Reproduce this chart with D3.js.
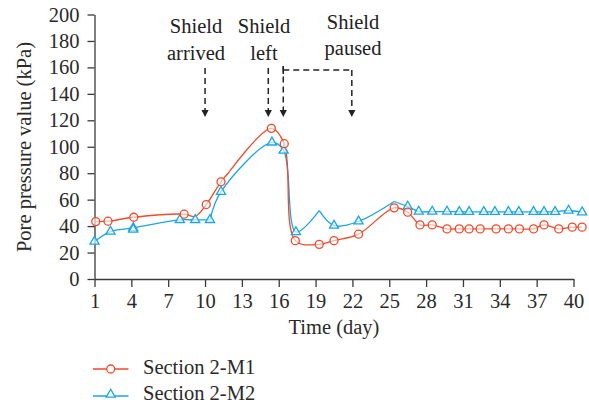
<!DOCTYPE html>
<html>
<head>
<meta charset="utf-8">
<script src="https://cdn.jsdelivr.net/npm/d3@7"></script>
<style>
  html, body { margin: 0; padding: 0; background: #fff; }
  svg { display: block; font-family: "Liberation Serif", "Times New Roman", serif; }
</style>
</head>
<body>
<svg id="chart" width="589" height="406"></svg>
<script>
// Pore pressure at two monitoring points while the shield passes
const xTicks = [1, 4, 7, 10, 13, 16, 19, 22, 25, 28, 31, 34, 37, 40];
const yTicks = [0, 20, 40, 60, 80, 100, 120, 140, 160, 180, 200];

// Section 2-M1 (marked = 1 draws a circle, 0 is a curve knot only)
const m1Days   = [1.1, 2.1, 4.2, 8.3, 9.2, 10.1, 11.3, 12.0, 15.4, 16.45, 17.35, 19.3, 20.5, 22.5, 25.4, 26.5, 27.5, 28.5, 29.7, 30.7, 31.5, 32.4, 33.7, 34.7, 35.6, 36.75, 37.6, 38.8, 39.9, 40.7];
const m1Values = [43.4, 43.7, 46.7, 49.0, 47.3, 56.3, 73.5, 81.3, 113.9, 102.3, 29.0, 26.2, 29.0, 33.9, 53.8, 50.5, 40.9, 40.9, 37.9, 37.9, 37.9, 37.9, 37.9, 37.9, 37.9, 37.9, 40.9, 37.9, 39.2, 39.2];
const m1Marked = [1, 1, 1, 1, 0, 1, 1, 0, 1, 1, 1, 1, 1, 1, 1, 1, 1, 1, 1, 1, 1, 1, 1, 1, 1, 1, 1, 1, 1, 1];
const m1Cusps  = [12.0];

// Section 2-M2 (marked = 1 draws a triangle)
const m2Days   = [1.0, 2.3, 4.15, 7.95, 9.2, 10.4, 11.3, 15.45, 16.4, 17.4, 19.3, 20.5, 22.5, 25.4, 26.5, 27.4, 28.5, 29.7, 30.7, 31.5, 32.7, 33.6, 34.7, 35.55, 36.75, 37.6, 38.5, 39.6, 40.7];
const m2Values = [28.3, 35.9, 38.6, 44.7, 44.7, 44.7, 66.0, 103.3, 97.2, 35.5, 51.7, 40.4, 43.6, 58.6, 54.8, 51.0, 51.0, 51.0, 50.8, 50.8, 50.8, 50.8, 50.8, 50.8, 50.8, 50.8, 50.8, 51.8, 50.5];
const m2Marked = [1, 1, 1, 1, 1, 1, 1, 1, 1, 1, 0, 1, 1, 0, 1, 1, 1, 1, 1, 1, 1, 1, 1, 1, 1, 1, 1, 1, 1];
const m2Cusps  = [10.4, 19.3, 25.4];
// repeated reading on day 4
const m2ExtraDays   = [4.15];
const m2ExtraValues = [37.4];

// construction events
const eventLabels = [["Shield", "arrived"], ["Shield", "left"], ["Shield", "paused"]];
const eventArrowDays = [10, 15.15, 16.37, 21.95];

const seriesNames = ["Section 2-M1", "Section 2-M2"];
const RED = "#ef4a2b", BLUE = "#1ba6df";

const svg = d3.select("#chart");
const x = d3.scaleLinear().domain([1, 40]).range([94.5, 573.5]);
const y = d3.scaleLinear().domain([0, 200]).range([279, 14.5]);

// axes
const axisColor = "#3a3a3a";
const gx = svg.append("g").attr("transform", "translate(0,279)")
  .call(d3.axisBottom(x).tickValues(xTicks).tickSize(8).tickSizeOuter(0).tickPadding(6));
const gy = svg.append("g").attr("transform", "translate(94.5,0)")
  .call(d3.axisLeft(y).tickValues(yTicks).tickSize(7).tickSizeOuter(0).tickPadding(8));
[gx, gy].forEach(g => {
  g.selectAll("path, line").attr("stroke", axisColor).attr("stroke-width", 1.3);
  g.selectAll("text").attr("fill", "#2a2a2a").attr("font-size", 20.5)
    .attr("font-family", "Liberation Serif, serif");
});
gx.selectAll("text").attr("dy", "0.75em");

svg.append("text").attr("x", 334).attr("y", 334).attr("text-anchor", "middle")
  .attr("font-size", 20.5).attr("fill", "#2a2a2a").text("Time (day)");
svg.append("text").attr("transform", "translate(31,147) rotate(-90)").attr("text-anchor", "middle")
  .attr("font-size", 20.5).attr("fill", "#2a2a2a").text("Pore pressure value (kPa)");

// curves: smooth between readings, with sharp corners at the listed cusp days
const line = d3.line().x(d => x(d[0])).y(d => y(d[1])).curve(d3.curveCatmullRom.alpha(0.5));
function pieces(pts, cusps) {
  const out = [];
  let cur = [];
  pts.forEach(p => {
    cur.push(p);
    if (cusps.includes(p[0])) { out.push(cur); cur = [p]; }
  });
  if (cur.length > 1) out.push(cur);
  return out;
}
const m1 = m1Days.map((d, i) => [d, m1Values[i], m1Marked[i]]);
const m2 = m2Days.map((d, i) => [d, m2Values[i], m2Marked[i]]);

svg.append("g").selectAll("path").data(pieces(m2, m2Cusps)).join("path")
  .attr("d", line).attr("fill", "none").attr("stroke", BLUE).attr("stroke-width", 1.3);
svg.append("g").selectAll("path").data(pieces(m1, m1Cusps)).join("path")
  .attr("d", line).attr("fill", "none").attr("stroke", RED).attr("stroke-width", 1.3);

const tri = d3.symbol().type(d3.symbolTriangle).size(36);
const m2Marks = m2.filter(d => d[2]).concat(m2ExtraDays.map((d, i) => [d, m2ExtraValues[i], 1]));
svg.append("g").selectAll("path").data(m2Marks).join("path")
  .attr("d", tri).attr("transform", d => `translate(${x(d[0])},${y(d[1])})`)
  .attr("fill", "#fff").attr("fill-opacity", 0.6).attr("stroke", BLUE).attr("stroke-width", 1.3);
svg.append("g").selectAll("circle").data(m1.filter(d => d[2])).join("circle")
  .attr("cx", d => x(d[0])).attr("cy", d => y(d[1])).attr("r", 4)
  .attr("fill", "#fff").attr("fill-opacity", 0.6).attr("stroke", RED).attr("stroke-width", 1.3);

// event annotations
const ink = "#222";
const ann = svg.append("g").attr("font-size", 20.5).attr("fill", ink).attr("text-anchor", "middle");
const labelPos = [[196, 33, 60], [264, 33, 60], [353, 28.5, 54.5]];
eventLabels.forEach((lbl, i) => {
  const [cx, b1, b2] = labelPos[i];
  ann.append("text").attr("x", cx).attr("y", b1).text(lbl[0]);
  ann.append("text").attr("x", cx).attr("y", b2).text(lbl[1]);
});
const tipY = 117, headH = 7, headW = 3.6;
const dash = { "stroke": ink, "stroke-width": 1.5, "stroke-dasharray": "6,4", "fill": "none" };
function dashed(d) {
  const p = svg.append("path").attr("d", d);
  Object.entries(dash).forEach(([k, v]) => p.attr(k, v));
}
eventArrowDays.forEach((day, i) => {
  const ax = x(day);
  const top = i === 2 ? 66.5 : (i === 3 ? 70 : 68);
  dashed(`M${ax},${top}V${tipY - headH}`);
  svg.append("path").attr("d", `M${ax - headW},${tipY - headH}L${ax + headW},${tipY - headH}L${ax},${tipY}Z`).attr("fill", ink);
});
// span between the shield leaving and the pause
dashed(`M${x(eventArrowDays[2])},70H${x(eventArrowDays[3])}`);
svg.append("path").attr("d", `M${x(eventArrowDays[2])},66V74`).attr("stroke", ink).attr("stroke-width", 1.5);

// legend
const lg = svg.append("g");
[[RED, 369, 374], [BLUE, 396, 400]].forEach(([c, ly, ty], i) => {
  lg.append("line").attr("x1", 93).attr("x2", 128.5).attr("y1", ly).attr("y2", ly)
    .attr("stroke", c).attr("stroke-width", 1.3);
  if (i === 0) {
    lg.append("circle").attr("cx", 110.7).attr("cy", ly).attr("r", 4)
      .attr("fill", "#fff").attr("stroke", c).attr("stroke-width", 1.3);
  } else {
    lg.append("path").attr("d", tri).attr("transform", `translate(110.7,${ly - 1.5})`)
      .attr("fill", "#fff").attr("stroke", c).attr("stroke-width", 1.3);
  }
  lg.append("text").attr("x", 143).attr("y", ty).attr("font-size", 20.5)
    .attr("fill", "#2a2a2a").text(seriesNames[i]);
});
</script>
</body>
</html>
